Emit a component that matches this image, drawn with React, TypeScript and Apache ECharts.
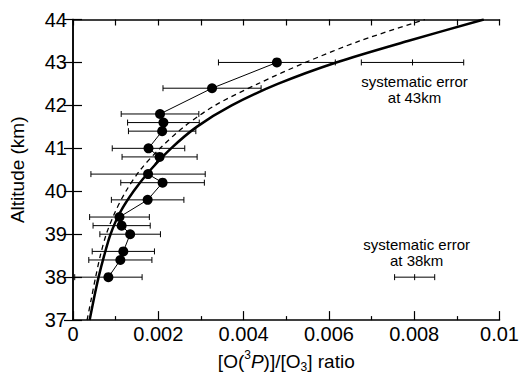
import React, { useEffect, useRef } from "react";
import * as echarts from "echarts";

// Measured profile (altitude in km, [O(3P)]/[O3] ratio and its error)
const altitudes = [38.0, 38.4, 38.6, 39.0, 39.2, 39.4, 39.8, 40.2, 40.4, 40.8, 41.0, 41.4, 41.6, 41.8, 42.4, 43.0];
const ratios = [0.00083, 0.00111, 0.00118, 0.00134, 0.00114, 0.00109, 0.00175, 0.0021, 0.00176, 0.00203, 0.00177, 0.00209, 0.00212, 0.00204, 0.00326, 0.00478];
const ratioErrors = [0.00079, 0.00074, 0.00073, 0.00071, 0.00067, 0.0007, 0.00085, 0.00098, 0.00134, 0.00088, 0.00085, 0.00079, 0.00084, 0.00091, 0.00115, 0.00137];

// Model curves
const modelAltitudes = [37, 37.5, 38, 38.5, 39, 39.5, 40, 40.5, 41, 41.5, 42, 42.5, 43, 43.5, 44];
const modelSolid = [0.00039, 0.00049, 0.0006, 0.00073, 0.00088, 0.0011, 0.00142, 0.00182, 0.0023, 0.0029, 0.00372, 0.0048, 0.00617, 0.00785, 0.00963];
const modelDashed = [0.00033, 0.00043, 0.00053, 0.00064, 0.00078, 0.00098, 0.00124, 0.00158, 0.00204, 0.0026, 0.00333, 0.00433, 0.00545, 0.00672, 0.00825];

// Systematic error bars
const sysCenters = [0.00796, 0.00801];
const sysAltitudes = [43, 38];
const sysErrors = [0.0012, 0.00047];
const sysLabels = ["systematic error\nat 43km", "systematic error\nat 38km"];

// Axis ticks
const xTicks = [0, 0.002, 0.004, 0.006, 0.008, 0.01];
const yTicks = [37, 38, 39, 40, 41, 42, 43, 44];

const FONT = "'Liberation Sans', Arial, Helvetica, sans-serif";

export default function App() {
  const ref = useRef<HTMLDivElement>(null);

  useEffect(() => {
    if (!ref.current) return;
    const chart = echarts.init(ref.current, undefined, { renderer: "svg" });
    const black = "#000";

    const axisCommon = {
      axisLine: { show: true, lineStyle: { color: black, width: 1.5 } },
      splitLine: { show: false },
    };

    const option: any = {
      animation: false,
      backgroundColor: "#fff",
      textStyle: { fontFamily: FONT },
      grid: { left: 72, right: 21, top: 19.5, bottom: 52, containLabel: false },
      xAxis: [
        {
          type: "value",
          position: "bottom",
          min: xTicks[0],
          max: xTicks[xTicks.length - 1],
          interval: 0.002,
          ...axisCommon,
          axisTick: { show: true, inside: true, length: 9, lineStyle: { color: black, width: 1.2 } },
          minorTick: { show: true, splitNumber: 2, length: 4, lineStyle: { color: black, width: 1.2 } },
          axisLabel: {
            color: black,
            fontSize: 20,
            fontFamily: FONT,
            margin: 4,
            formatter: (v: number) => (v === 0 ? "0" : String(+v.toFixed(3))),
          },
          name: "{n|[O(}{sup|3}{i|P}{n|)]/[O}{sub|3}{n|] ratio}",
          nameLocation: "middle",
          nameGap: 28,
          nameTextStyle: {
            fontFamily: FONT,
            color: black,
            lineHeight: 24,
            rich: {
              n: { fontSize: 19, fontFamily: FONT, color: black, verticalAlign: "middle", lineHeight: 24 },
              i: { fontSize: 19, fontFamily: FONT, fontStyle: "italic", color: black, verticalAlign: "middle", lineHeight: 24 },
              sup: { fontSize: 12, fontFamily: FONT, color: black, verticalAlign: "top", lineHeight: 24 },
              sub: { fontSize: 12, fontFamily: FONT, color: black, verticalAlign: "bottom", lineHeight: 24 },
            },
          },
        },
        {
          type: "value",
          position: "top",
          min: 0,
          max: 0.01,
          interval: 0.001,
          ...axisCommon,
          axisTick: { show: true, inside: true, length: 6, lineStyle: { color: black, width: 1.2 } },
          axisLabel: { show: false },
        },
      ],
      yAxis: [
        {
          type: "value",
          position: "left",
          min: yTicks[0],
          max: yTicks[yTicks.length - 1],
          interval: 1,
          ...axisCommon,
          axisTick: { show: true, inside: true, length: 9, lineStyle: { color: black, width: 1.2 } },
          axisLabel: { color: black, fontSize: 20, fontFamily: FONT, margin: 6 },
          name: "Altitude (km)",
          nameLocation: "middle",
          nameGap: 46,
          nameTextStyle: { fontSize: 19, fontFamily: FONT, color: black },
        },
        {
          type: "value",
          position: "right",
          min: 37,
          max: 44,
          interval: 1,
          ...axisCommon,
          axisTick: { show: true, inside: true, length: 9, lineStyle: { color: black, width: 1.2 } },
          axisLabel: { show: false },
        },
      ],
      series: [
        {
          type: "line",
          name: "model",
          data: modelAltitudes.map((a, i) => [modelSolid[i], a]),
          showSymbol: false,
          smooth: 0.3,
          lineStyle: { color: black, width: 2.5 },
          z: 3,
        },
        {
          type: "line",
          name: "model dashed",
          data: modelAltitudes.map((a, i) => [modelDashed[i], a]),
          showSymbol: false,
          smooth: 0.3,
          lineStyle: { color: black, width: 1.3, type: [5, 4] },
          z: 3,
        },
        {
          type: "custom",
          name: "errors",
          encode: { x: 0, y: 1 },
          data: altitudes.map((a, i) => [ratios[i], a, ratioErrors[i]]),
          renderItem: (params: any, api: any) => {
            const x = api.value(0);
            const y = api.value(1);
            const e = api.value(2);
            const l = api.coord([x - e, y]);
            const r = api.coord([x + e, y]);
            const h = 3;
            const style = { stroke: black, lineWidth: 1 };
            return {
              type: "group",
              children: [
                { type: "line", shape: { x1: l[0], y1: l[1], x2: r[0], y2: r[1] }, style },
                { type: "line", shape: { x1: l[0], y1: l[1] - h, x2: l[0], y2: l[1] + h }, style },
                { type: "line", shape: { x1: r[0], y1: r[1] - h, x2: r[0], y2: r[1] + h }, style },
              ],
            };
          },
          z: 4,
        },
        {
          type: "line",
          name: "measured",
          data: altitudes.map((a, i) => [ratios[i], a]),
          symbol: "circle",
          symbolSize: 10,
          itemStyle: { color: black },
          lineStyle: { color: black, width: 1 },
          z: 5,
        },
        {
          type: "custom",
          name: "systematic",
          encode: { x: 0, y: 1 },
          data: sysAltitudes.map((a, i) => [sysCenters[i], a, sysErrors[i], i]),
          renderItem: (params: any, api: any) => {
            const x = api.value(0);
            const y = api.value(1);
            const e = api.value(2);
            const idx = api.value(3);
            const c = api.coord([x, y]);
            const l = api.coord([x - e, y]);
            const r = api.coord([x + e, y]);
            const h = 3;
            const style = { stroke: black, lineWidth: 1 };
            const below = idx === 0;
            return {
              type: "group",
              children: [
                { type: "line", shape: { x1: l[0], y1: l[1], x2: r[0], y2: r[1] }, style },
                { type: "line", shape: { x1: l[0], y1: l[1] - h, x2: l[0], y2: l[1] + h }, style },
                { type: "line", shape: { x1: r[0], y1: r[1] - h, x2: r[0], y2: r[1] + h }, style },
                { type: "line", shape: { x1: c[0], y1: c[1] - h, x2: c[0], y2: c[1] + h }, style },
                {
                  type: "text",
                  x: c[0] + 2,
                  y: below ? c[1] + 11 : c[1] - 9,
                  style: {
                    text: sysLabels[idx],
                    fill: black,
                    font: `15px ${FONT}`,
                    fontSize: 15,
                    fontFamily: FONT,
                    lineHeight: 16,
                    align: "center",
                    verticalAlign: below ? "top" : "bottom",
                  },
                },
              ],
            };
          },
          z: 4,
        },
      ],
    };

    chart.setOption(option);
    return () => chart.dispose();
  }, []);

  return (
    <div
      ref={ref}
      style={{ position: "fixed", left: 0, top: 0, width: 522, height: 378, background: "#fff" }}
    />
  );
}
